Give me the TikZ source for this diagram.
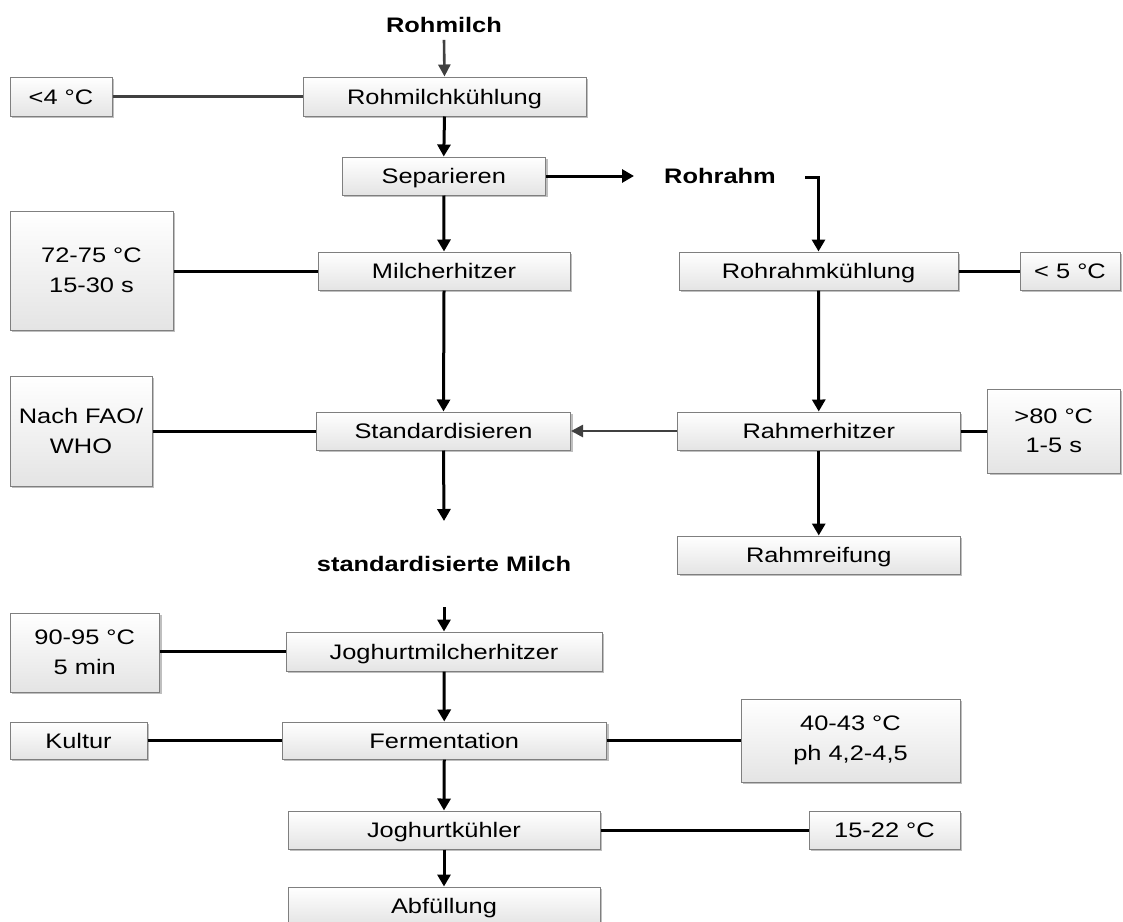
\documentclass[tikz,border=0pt]{standalone}
\usepackage{fontspec}
\setmainfont{Liberation Sans}[FakeStretch=1.21]
\usetikzlibrary{arrows.meta,shadows}
\definecolor{boxline}{HTML}{7F7F7F}
\definecolor{boxbottom}{HTML}{E4E4E4}
\definecolor{darkline}{HTML}{404040}
\tikzset{
  every node/.style={font=\fontsize{21}{29.5}\selectfont, inner sep=0pt},
  box/.style={draw=boxline, line width=1pt, top color=white, bottom color=boxbottom,
    align=center, text height=17.5pt, text depth=2.4pt,
    drop shadow={shadow xshift=2pt, shadow yshift=-2pt, opacity=0.25, fill=black}},
  twoline/.style={text height=, text depth=},
  label/.style={font=\fontsize{21}{25}\selectfont\bfseries},
  arr/.style={line width=3pt, -{Triangle[length=12pt,width=13pt]}},
  garr/.style={line width=2.6pt, draw=darkline, -{Triangle[length=12pt,width=12pt]}},
  link/.style={line width=3pt},
  glink/.style={line width=2.6pt, draw=darkline},
}
\begin{document}
\begin{tikzpicture}[x=1pt,y=-1pt]
\useasboundingbox (0,0) rectangle (1123,921);

% main milk line
\node[label] (rohmilch) at (444,25) {Rohmilch};
\node[box, minimum width=283pt, minimum height=39pt] (rmk) at (444.5,96.5) {Rohmilchkühlung};
\node[box, minimum width=102pt, minimum height=39pt] (t4) at (61,96.5) {<4 °C};
\node[box, minimum width=203.5pt, minimum height=38pt] (sep) at (443.75,176) {Separieren};
\node[box, minimum width=252pt, minimum height=38pt] (milch) at (444,271) {Milcherhitzer};
\node[box, twoline, minimum width=163pt, minimum height=119pt] (t72) at (91.5,270.5) {72-75 °C\\15-30 s};
\node[box, minimum width=254pt, minimum height=38pt] (std) at (443.5,431) {Standardisieren};
\node[box, twoline, minimum width=142pt, minimum height=110pt] (fao) at (81,431) {Nach FAO/\\WHO};
\node[label] (stdm) at (444,564) {standardisierte Milch};

% cream line
\node[label] (rohrahm) at (720,176) {Rohrahm};
\node[box, minimum width=279pt, minimum height=38pt] (rrk) at (818.5,271) {Rohrahmkühlung};
\node[box, minimum width=100pt, minimum height=38pt] (t5) at (1070,271) {< 5 °C};
\node[box, minimum width=282.5pt, minimum height=38pt] (rhz) at (818.75,431) {Rahmerhitzer};
\node[box, twoline, minimum width=132.5pt, minimum height=84pt] (t80) at (1053.75,431) {>80 °C\\1-5 s};
\node[box, minimum width=282.5pt, minimum height=38pt] (rreif) at (818.75,555) {Rahmreifung};

% yoghurt line
\node[box, minimum width=316pt, minimum height=39pt] (jmh) at (444,651.5) {Joghurtmilcherhitzer};
\node[box, twoline, minimum width=149.5pt, minimum height=79pt] (t90) at (84.75,652.5) {90-95 °C\\5 min};
\node[box, minimum width=324.5pt, minimum height=37pt] (ferm) at (444.25,740.5) {Fermentation};
\node[box, minimum width=137pt, minimum height=37pt] (kultur) at (78.5,740.5) {Kultur};
\node[box, twoline, minimum width=219pt, minimum height=83pt] (t40) at (850.5,740.5) {40-43 °C\\ph 4,2-4,5};
\node[box, minimum width=312pt, minimum height=38pt] (jk) at (444,830) {Joghurtkühler};
\node[box, minimum width=151pt, minimum height=38pt] (t15) at (884.5,830) {15-22 °C};
\node[box, minimum width=312pt, minimum height=38pt] (abf) at (444,906) {Abfüllung};

% free ends
\coordinate (septip) at (634,176);
\coordinate (rrstart) at (805,177);
\coordinate (stdtip) at (444,521);
\coordinate (jin) at (444,607);

% flow arrows
\draw[garr] ([yshift=-7pt]rohmilch.south) -- (rmk.north);
\draw[arr] (rmk.south) -- (sep.north);
\draw[arr] (sep.south) -- (milch.north);
\draw[arr] (milch.south) -- (std.north);
\draw[arr] (std.south) -- (stdtip);
\draw[arr] (sep.east) -- (septip);
\draw[arr, line cap=butt] (rrstart) -| (rrk.north);
\draw[arr] (rrk.south) -- (rhz.north);
\draw[arr] (rhz.south) -- (rreif.north);
\draw[garr] (rhz.west) -- (std.east);
\draw[arr] (jin) -- (jmh.north);
\draw[arr] (jmh.south) -- (ferm.north);
\draw[arr] (ferm.south) -- (jk.north);
\draw[arr] (jk.south) -- (abf.north);

% parameter links
\draw[glink] (t4.east |- rmk.west) -- (rmk.west);
\draw[link] (t72.east |- milch.west) -- (milch.west);
\draw[link] (fao.east |- std.west) -- (std.west);
\draw[link] (rrk.east) -- (t5.west);
\draw[link] (rhz.east) -- (t80.west |- rhz.east);
\draw[link] (t90.east |- jmh.west) -- (jmh.west);
\draw[link] (kultur.east) -- (ferm.west);
\draw[link] (ferm.east) -- (t40.west);
\draw[link] (jk.east) -- (t15.west);
\end{tikzpicture}
\end{document}
